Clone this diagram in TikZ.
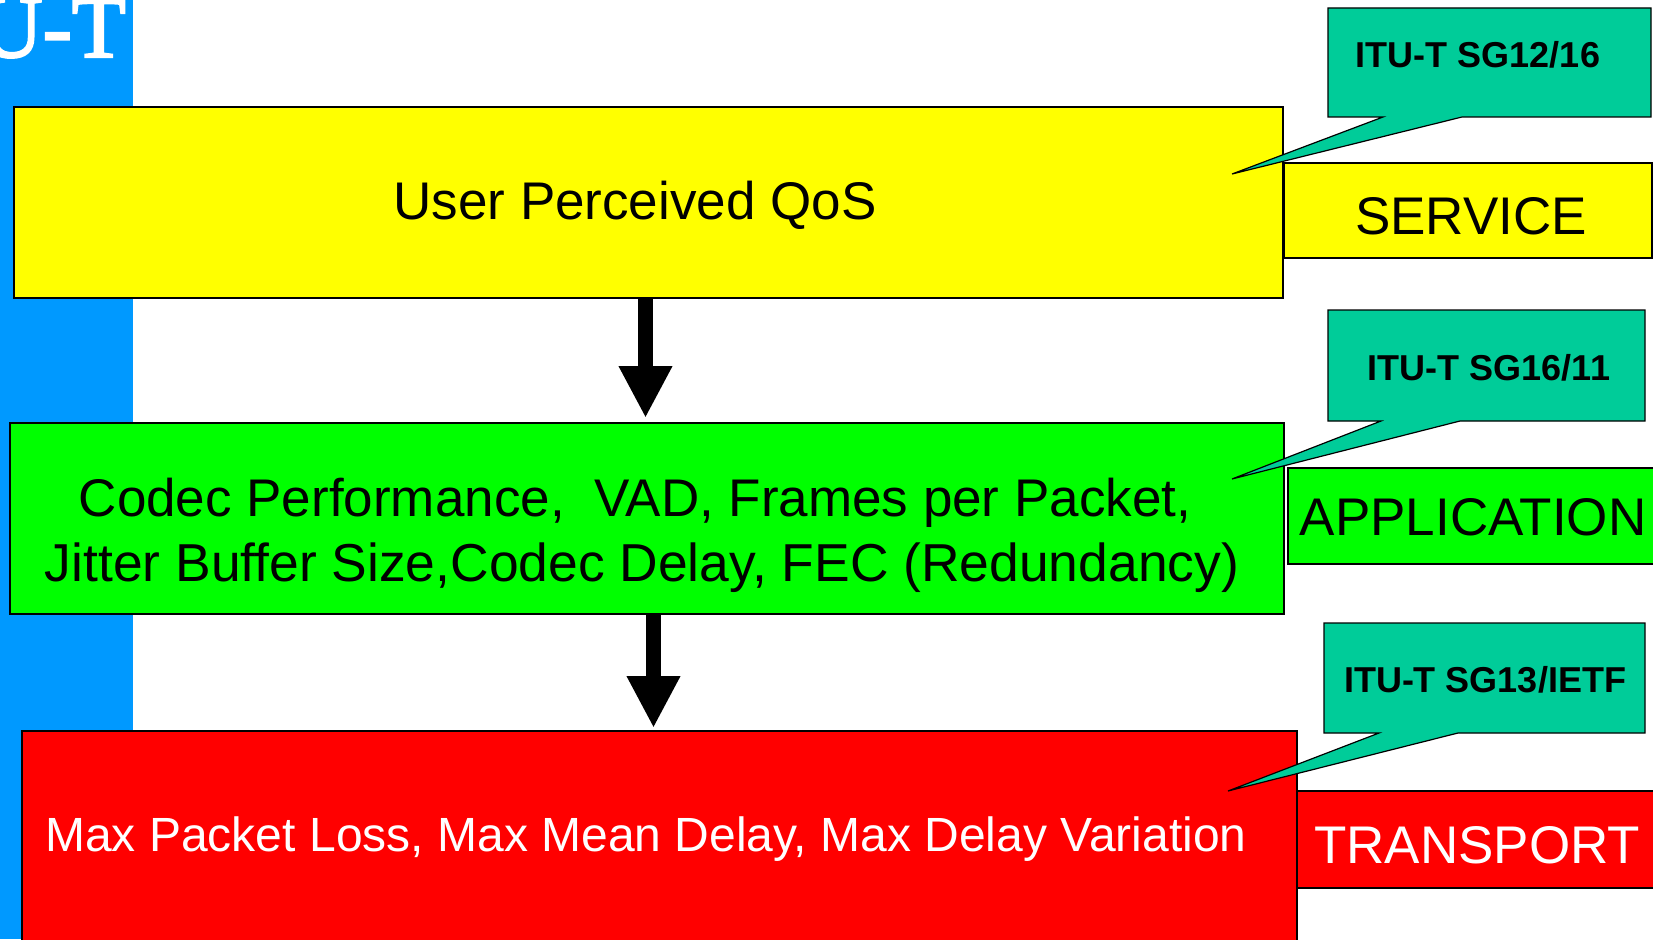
\documentclass[tikz,border=0pt]{standalone}
\usepackage{fontspec}
\setmainfont{Liberation Sans}
\newfontfamily\titleserif[FakeBold=2.5]{Liberation Serif}
\usetikzlibrary{arrows.meta}

\definecolor{barblue}{HTML}{0099FF}
\definecolor{layeryellow}{HTML}{FFFF00}
\definecolor{layergreen}{HTML}{00FF00}
\definecolor{layerred}{HTML}{FF0000}
\definecolor{sgteal}{HTML}{00CC99}

\tikzset{
  box/.style={draw=black, line width=1.5pt, inner sep=0pt, outer sep=0pt, anchor=north west},
  callout/.style={draw=black, line width=1.2pt, fill=sgteal, line join=miter},
  bigtext/.style={font=\fontsize{53}{60}\selectfont, inner sep=0pt, anchor=base},
  midtext/.style={font=\fontsize{48}{56}\selectfont, inner sep=0pt, anchor=base},
  sgtext/.style={font=\fontsize{36}{42}\selectfont\bfseries, inner sep=0pt, anchor=base},
  downarrow/.style={line width=15pt, black, -{Triangle[width=50pt,length=52pt]}},
}

\begin{document}
\begin{tikzpicture}[x=1pt, y=-1pt]
\useasboundingbox (0,0) rectangle (1653,939);
\begin{scope}
\clip (0,0) rectangle (1653,939);

% side bar with its title
\fill[barblue] (0,0) rectangle (133,939);
\node[font=\titleserif\fontsize{88}{96}\selectfont, text=white,
      inner sep=0pt, outer sep=0pt, anchor=base east] (bartitle) at (125.7,57) {U-T};

% layer boxes
\node[box, fill=layeryellow, minimum width=1269pt, minimum height=191pt] (qos) at (14,107) {};
\node[box, fill=layeryellow, minimum width=368pt, minimum height=95pt] (service) at (1284,163) {};
\node[box, fill=layergreen, minimum width=1274pt, minimum height=191pt] (app) at (10,423) {};
\node[box, fill=layergreen, minimum width=392pt, minimum height=96pt] (application) at (1288,468) {};
\node[box, fill=layerred, minimum width=1275pt, minimum height=269pt] (net) at (22,731) {};
\node[box, fill=layerred, minimum width=403pt, minimum height=97pt] (transport) at (1297,791) {};

% box texts
\node[bigtext] (qostext) at (635,219) {User Perceived QoS};
\node[bigtext] (apptexta) at (635,516) {Codec Performance,\ \ VAD, Frames per Packet,};
\node[bigtext, font=\fontsize{53.4}{60}\selectfont] (apptextb) at (642,581) {Jitter Buffer Size,Codec Delay, FEC (Redundancy)};
\node[midtext, text=white] (nettext) at (646,851) {Max Packet Loss, Max Mean Delay, Max Delay Variation};
\node[bigtext] (servicetext) at (1471,234) {SERVICE};
\node[bigtext] (applicationtext) at (1473,535) {APPLICATION};
\node[bigtext, text=white] (transporttext) at (1477,863) {TRANSPORT};

% arrows between the layers
\coordinate (tipa) at (645.5,418);
\coordinate (tipb) at (653.5,728);
\draw[downarrow] (qos.south -| tipa) -- (tipa);
\draw[downarrow] (app.south -| tipb) -- (tipb);

% study group callouts
\draw[callout] (1328,8) -- (1651,8) -- (1651,117) -- (1462,117) -- (1232,174)
  -- (1383,117) -- (1328,117) -- cycle;
\draw[callout] (1328,310) -- (1645,310) -- (1645,421) -- (1460,421) -- (1232,479)
  -- (1381,421) -- (1328,421) -- cycle;
\draw[callout] (1324,623) -- (1645,623) -- (1645,733) -- (1458,733) -- (1228,791)
  -- (1379,733) -- (1324,733) -- cycle;

\node[sgtext] (sga) at (1478,68) {ITU-T SG12/16};
\node[sgtext] (sgb) at (1489,380) {ITU-T SG16/11};
\node[sgtext] (sgc) at (1485,692) {ITU-T SG13/IETF};
\end{scope}
\end{tikzpicture}
\end{document}
